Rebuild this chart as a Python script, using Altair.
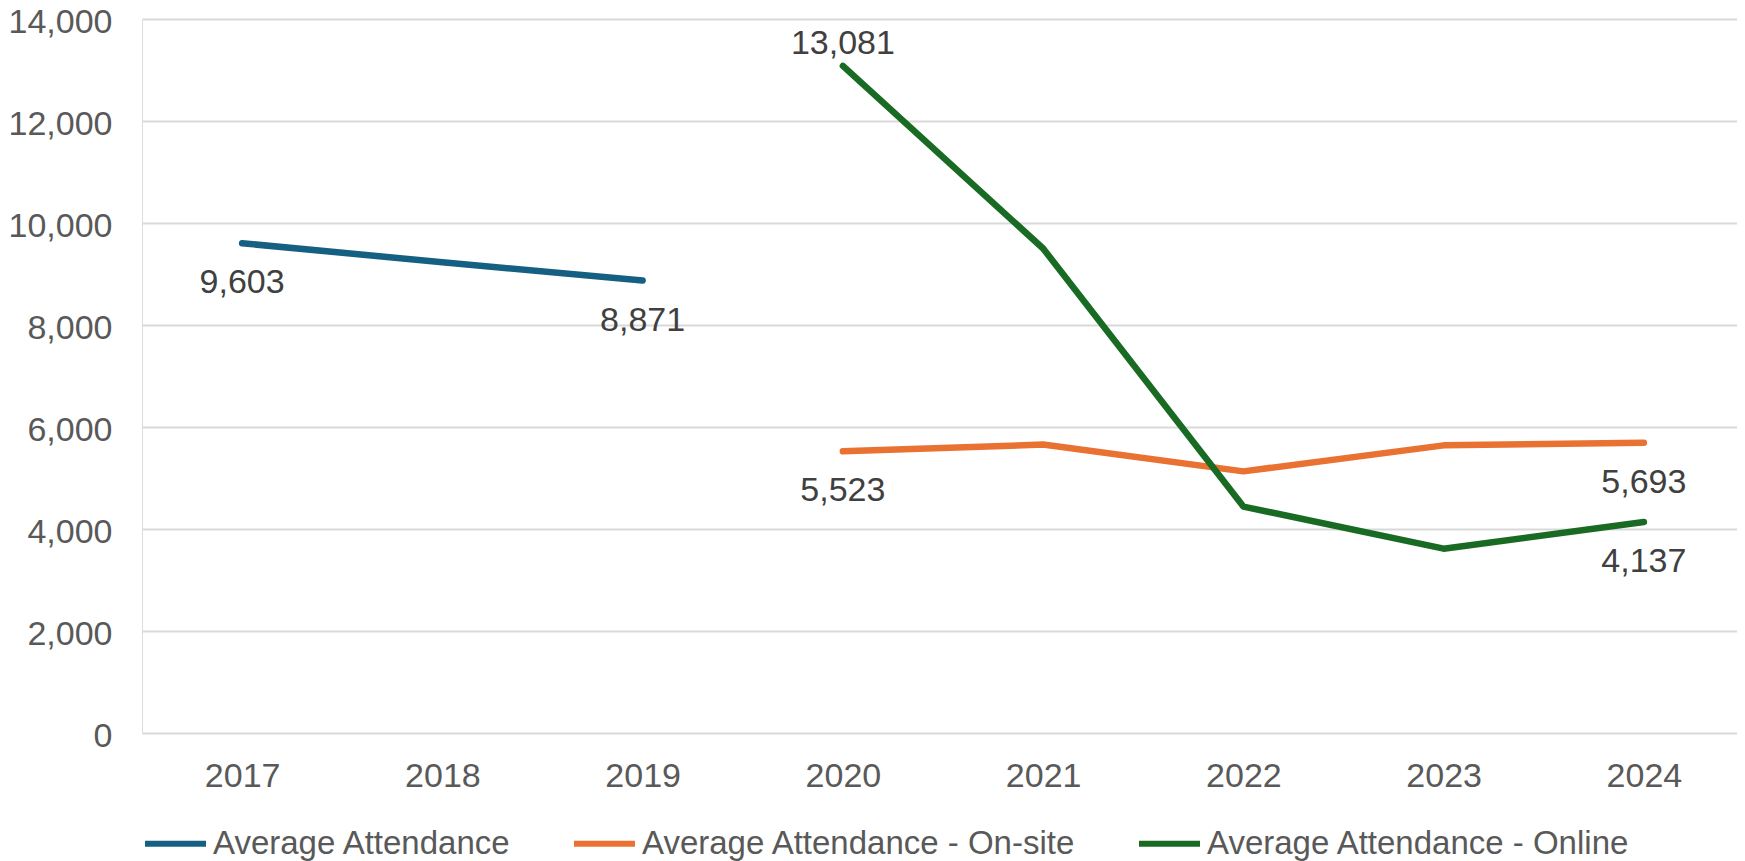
import altair as alt
import pandas as pd

years = ["2017", "2018", "2019", "2020", "2021", "2022", "2023", "2024"]
series_names = [
    "Average Attendance",
    "Average Attendance - On-site",
    "Average Attendance - Online",
]
colors = ["#156082", "#E97132", "#196B24"]

avg_years = ["2017", "2018", "2019"]
avg_values = [9603, 9230, 8871]

onsite_years = ["2020", "2021", "2022", "2023", "2024"]
onsite_values = [5523, 5655, 5130, 5640, 5693]

online_years = ["2020", "2021", "2022", "2023", "2024"]
online_values = [13081, 9500, 4440, 3614, 4137]

y_ticks = [0, 2000, 4000, 6000, 8000, 10000, 12000, 14000]

label_series = [series_names[0], series_names[0], series_names[2],
                series_names[1], series_names[1], series_names[2]]
label_years = ["2017", "2019", "2020", "2020", "2024", "2024"]
label_values = [9603, 8871, 13081, 5523, 5693, 4137]
label_pos = ["below", "below", "above", "below", "below", "below"]

rows = []
for name, ys, vs in [(series_names[0], avg_years, avg_values),
                     (series_names[1], onsite_years, onsite_values),
                     (series_names[2], online_years, online_values)]:
    for y, v in zip(ys, vs):
        rows.append({"series": name, "year": y, "value": v})
df = pd.DataFrame(rows)

labels = pd.DataFrame({
    "series": label_series,
    "year": label_years,
    "value": label_values,
    "pos": label_pos,
})

FONT = "Liberation Sans"
FS = 33
NFS = 34

x = alt.X("year:O", sort=years,
          scale=alt.Scale(domain=years, padding=0.5),
          axis=alt.Axis(title=None, labelAngle=0, ticks=False, tickSize=0,
                        domain=False, grid=False, labelFontSize=NFS,
                        labelColor="#595959", labelFont=FONT, labelPadding=26))
y = alt.Y("value:Q",
          scale=alt.Scale(domain=[0, 14000], nice=False, zero=True),
          axis=alt.Axis(title=None, values=y_ticks,
                        labelExpr="format(datum.value, ',')",
                        grid=True, gridColor="#d9d9d9", gridWidth=2,
                        domain=False, ticks=False, tickSize=0,
                        labelFontSize=NFS, labelColor="#595959", labelFont=FONT,
                        labelPadding=30, labelOffset=3))

lines = alt.Chart(df).mark_line(strokeWidth=6.5, strokeCap="round", strokeJoin="round").encode(
    x=x,
    y=y,
    color=alt.Color("series:N",
                    scale=alt.Scale(domain=series_names, range=colors),
                    legend=alt.Legend(title=None, orient="none", legendX=0, legendY=791,
                                      direction="horizontal", columns=3,
                                      symbolType="stroke", symbolStrokeWidth=6,
                                      symbolSize=3721, labelFontSize=FS,
                                      labelFont=FONT, labelColor="#595959",
                                      columnPadding=50, labelOffset=4, labelLimit=0)),
    detail="series:N",
)

below = alt.Chart(labels).transform_filter(alt.datum.pos == "below").mark_text(
    dy=40, fontSize=NFS, font=FONT, color="#404040"
).encode(x=x, y=y, text=alt.Text("value:Q", format=","))

above = alt.Chart(labels).transform_filter(alt.datum.pos == "above").mark_text(
    dy=-22, fontSize=NFS, font=FONT, color="#404040"
).encode(x=x, y=y, text=alt.Text("value:Q", format=","))

chart = alt.layer(lines, below, above).properties(
    width=1602,
    height=714,
    autosize=alt.AutoSizeParams(type="none"),
    padding={"left": 134, "top": 11, "right": -7, "bottom": 128},
).configure_view(stroke=None).configure(background="white")

chart.save("out.html", embed_options={"renderer": "svg", "actions": False})
